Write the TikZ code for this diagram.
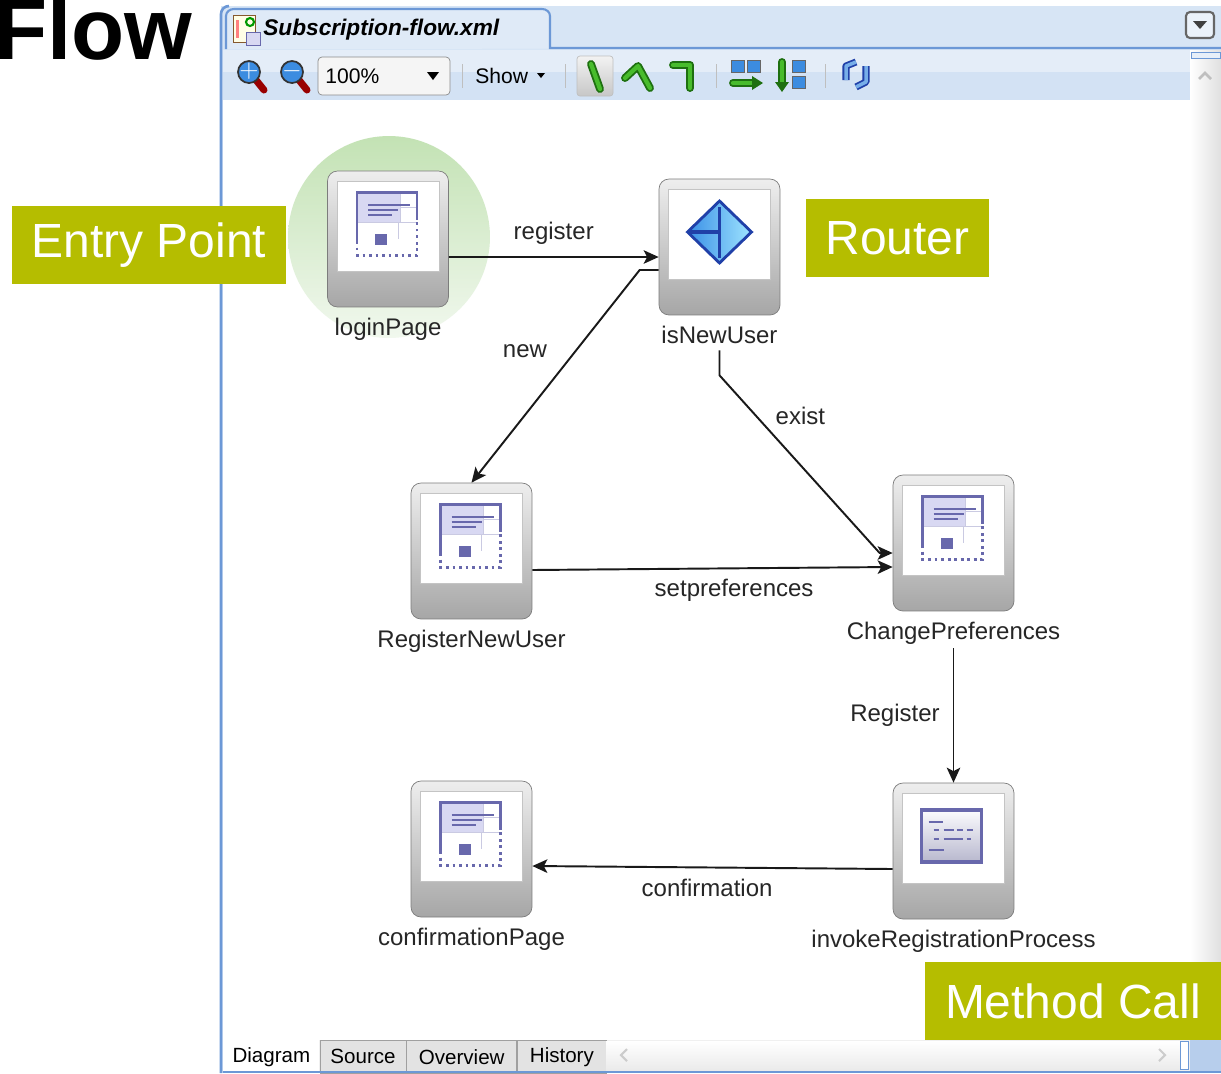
\documentclass[tikz,border=0pt]{standalone}
\usepackage{fontspec}
\setmainfont{Liberation Sans}
\usetikzlibrary{positioning,arrows,arrows.meta}

\definecolor{tagGreen}{HTML}{B5BD00}
\definecolor{winBlue}{HTML}{D7E5F5}
\definecolor{winLine}{HTML}{6C98D6}
\definecolor{toolTop}{HTML}{E4EDF8}
\definecolor{toolLow}{HTML}{D3E2F4}
\definecolor{nodeFrame}{HTML}{7C7C7C}
\definecolor{nodeTop}{HTML}{EEEEEE}
\definecolor{nodeBottom}{HTML}{A6A6A6}
\definecolor{innerLine}{HTML}{C4C4C4}
\definecolor{pageFrame}{HTML}{6868AC}
\definecolor{pageFill}{HTML}{D8D8F2}
\definecolor{routerLine}{HTML}{2040A8}
\definecolor{routerDark}{HTML}{3A90E6}
\definecolor{routerLight}{HTML}{9FE4FF}
\definecolor{entryTop}{HTML}{C3E2B4}
\definecolor{entryBottom}{HTML}{F1F8EE}
\definecolor{txtGray}{HTML}{262626}
\definecolor{iconGreen}{HTML}{48BC2C}
\definecolor{iconDarkGreen}{HTML}{1E7010}
\definecolor{iconBlue}{HTML}{3C8CE0}
\definecolor{tabGray}{HTML}{E3E3E3}
\definecolor{tabLine}{HTML}{A0A0A0}

\begin{document}
\begin{tikzpicture}[x=0.02cm,y=-0.02cm,>={Stealth[length=0.3cm,width=0.27cm,inset=0.07cm]},
	flownode/.style={rectangle,rounded corners=0.2cm,draw=nodeFrame,top color=nodeTop,bottom color=nodeBottom,minimum width=2.42cm,minimum height=2.72cm,inner sep=0pt},
	lbl/.style={font=\fontsize{13.66}{16}\selectfont,text=txtGray},
	tag/.style={fill=tagGreen,text=white,font=\fontsize{27.3}{32}\selectfont,minimum height=1.56cm,inner xsep=0.4cm},
	flow/.style={->,line width=1.1pt,draw=black!90},
	tab/.style={draw=tabLine,fill=tabGray,minimum height=0.66cm,inner sep=0pt,font=\fontsize{11.7}{14}\selectfont},
	tool/.style={font=\fontsize{12}{14}\selectfont,inner sep=0pt,anchor=west},
	greenicon/.style={draw=iconDarkGreen,line width=4.5pt,line cap=round,line join=round},
	greenin/.style={draw=iconGreen,line width=2.4pt,line cap=round,line join=round}]

	\useasboundingbox (0,0) rectangle (1221,1073);

	% window
	\fill[winBlue] (221,6) rectangle (1221,1073);
	\draw[winLine,line width=1.5pt] (221,1073) -- (221,14) to[out=90,in=180] (229,6);
	\draw[winLine,line width=1.2pt,fill=winBlue!80!white] (226,49) -- (226,16) to[out=90,in=180] (234,9) -- (542,9) to[out=0,in=90] (550,16) -- (550,48) -- (1221,48);
	\fill[toolTop] (223,50) rectangle (1190,72);
	\fill[toolLow] (223,72) rectangle (1190,100);
	\fill[white] (223,100) rectangle (1190,1040);
	\shade[left color=white,right color=black!12] (1190,50) rectangle (1221,1040);
	\draw[winLine,fill=winBlue!60!white] (1191,52) rectangle (1220,58);
	\draw[black!25,line width=1.5pt] (1199,79) -- (1205,73) -- (1211,79);
	\draw[black!60,line width=1.2pt,rounded corners=0.08cm,fill=winBlue!50!white] (1186,12) rectangle (1214,38);
	\fill[black!75] (1193,21) -- (1207,21) -- (1200,29) -- cycle;

	% tab title
	\draw[brown!70!black,fill=yellow!10] (233,15) rectangle (255,42);
	\fill[red!50] (236,20) rectangle (239,38);
	\draw[green!60!black,line width=1.2pt] (250,22) circle (0.08cm);
	\draw[pageFrame,fill=pageFill] (246,32) rectangle (260,45);
	\node[tool,font=\fontsize{12.9}{15}\selectfont\bfseries\itshape] (fileName) at (263,30) {Subscription-flow.xml};

	% toolbar
	\foreach \zx/\sign in {249/+,292/-}{
		\draw[red!60!black,line width=4pt,line cap=round] (\zx+7,80) -- (\zx+15,90);
		\draw[black!80,fill=iconBlue,line width=1pt] (\zx,72) circle (0.22cm);
		\node[text=white,font=\bfseries\fontsize{14}{14}\selectfont,inner sep=0pt] at (\zx,71) {$\mathbf{\sign}$};
	}
	\draw[black!45,rounded corners=0.08cm,fill=white!96!black] (318,57) rectangle (450,95);
	\node[tool] (zoomText) at (325,76) {100\%};
	\fill[black] (427,72) -- (439,72) -- (433,80) -- cycle;
	\foreach \sx in {462,565,716,825}
		\draw[black!25] (\sx,64) -- (\sx,88);
	\node[tool] (showText) at (475,76) {Show};
	\fill[black] (537,73) -- (545,73) -- (541,78) -- cycle;
	\draw[black!25,rounded corners=0.06cm,top color=black!5,bottom color=black!22] (577,56) rectangle (613,96);
	\draw[greenicon] (591,64) -- (600,89);
	\draw[greenin] (591,64) -- (600,89);
	\draw[greenicon] (625,78) -- (638,66) -- (650,88);
	\draw[greenin] (625,78) -- (638,66) -- (650,88);
	\draw[greenicon] (673,65) -- (690,65) -- (690,88);
	\draw[greenin] (673,65) -- (690,65) -- (690,88);
	\draw[black!60,fill=iconBlue] (731,60) rectangle (744,72) (747,60) rectangle (760,72);
	\draw[greenicon] (733,83) -- (755,83);
	\draw[greenin] (733,83) -- (755,83);
	\fill[iconDarkGreen] (752,76) -- (763,83) -- (752,90) -- cycle;
	\draw[greenicon] (782,62) -- (782,84);
	\draw[greenin] (782,62) -- (782,84);
	\fill[iconDarkGreen] (775,82) -- (789,82) -- (782,92) -- cycle;
	\draw[black!60,fill=iconBlue] (792,60) rectangle (805,72) (792,76) rectangle (805,88);
	\draw[routerLine,line width=4pt,line join=round] (846,80) -- (846,66) -- (856,62);
	\draw[iconBlue!70!white,line width=2pt,line join=round] (846,80) -- (846,66) -- (856,62);
	\draw[routerLine,line width=4pt,line join=round] (866,66) -- (866,82) -- (856,87);
	\draw[iconBlue!70!white,line width=2pt,line join=round] (866,66) -- (866,82) -- (856,87);

	% entry point halo
	\shade[top color=entryTop,bottom color=entryBottom] (389,237) circle [radius=2.02cm];

	% flow nodes
	\node[flownode] (loginPage) at (388,239) {};
	\node[flownode] (isNewUser) at (719.5,247) {};
	\node[flownode] (RegisterNewUser) at (471.5,551) {};
	\node[flownode] (ChangePreferences) at (953.5,543) {};
	\node[flownode] (confirmationPage) at (471.5,849) {};
	\node[flownode] (invokeRegistrationProcess) at (953.5,851) {};

	\foreach \n/\t in {loginPage/loginPage,isNewUser/isNewUser,RegisterNewUser/RegisterNewUser,ChangePreferences/ChangePreferences,confirmationPage/confirmationPage,invokeRegistrationProcess/invokeRegistrationProcess}{
		\draw[innerLine,fill=white] ([shift={(-51,-58)}]\n.center) rectangle ([shift={(51,32)}]\n.center);
		\node[lbl,below=0.1cm of \n] (\n-label) {\t};
	}

	% page icons
	\foreach \n in {loginPage,RegisterNewUser,ChangePreferences,confirmationPage}{
		\begin{scope}[shift={(\n.center)}]
			\fill[pageFill] (-31,-47) rectangle (12,-17);
			\draw[pageFrame!35] (-31,-17) -- (29,-17) (12,-47) -- (12,-17) (12,-32) -- (29,-32) (10,-17) -- (10,0);
			\draw[pageFrame,line width=1.6pt] (-20,-34) -- (22,-34) (-20,-29) -- (10,-29) (-20,-24) -- (4,-24);
			\fill[pageFrame] (-13,-5) rectangle (-1,6);
			\draw[pageFrame,line width=1.7pt] (-31,2) -- (-31,-47) -- (29,-47) -- (29,-19);
			\draw[pageFrame,line width=1.7pt,dotted] (-31,2) -- (-31,16) -- (29,16) -- (29,-19);
		\end{scope}
	}

	% router icon
	\begin{scope}[shift={(isNewUser.center)}]
		\draw[routerLine,line width=1.6pt,left color=routerDark,right color=routerLight] (-32,-15) -- (0,-46) -- (32,-15) -- (0,16) -- cycle;
		\draw[routerLine,line width=1.8pt] (-32,-15) -- (0,-15) (0,-40) -- (0,11);
	\end{scope}

	% method call icon
	\begin{scope}[shift={(invokeRegistrationProcess.center)}]
		\draw[pageFrame,line width=1.8pt,top color=white!90!pageFill,bottom color=pageFill!85!black] (-32,-41) rectangle (28,11);
		\draw[pageFrame,line width=1.5pt] (-25,-29) -- (-11,-29) (-25,-1) -- (-10,-1)
			(-20,-21) -- (-15,-21) (-10,-21) -- (0,-21) (3,-21) -- (9,-21) (13,-21) -- (19,-21)
			(-20,-12) -- (-15,-12) (-10,-12) -- (9,-12) (13,-12) -- (17,-12);
	\end{scope}

	% connectors
	\draw[flow] ([yshift=-0.36cm]loginPage.east) -- node[lbl,above=0.11cm] {register} ([yshift=-0.2cm]isNewUser.west);
	\draw[flow] ([yshift=-0.46cm]isNewUser.west) -- ++(-19,0) -- (RegisterNewUser.north) node[lbl,pos=0.38,left=0.44cm] {new};
	\draw[flow] ([yshift=-0.7cm]isNewUser.south) -- ++(0,25) -- ([xshift=-0.26cm,yshift=-0.2cm]ChangePreferences.west) node[lbl,pos=0.23,right=0.25cm] {exist} -- ([yshift=-0.2cm]ChangePreferences.west);
	\draw[flow] ([yshift=-0.38cm]RegisterNewUser.east) -- node[lbl,pos=0.56,below=0.08cm] {setpreferences} ([yshift=-0.48cm]ChangePreferences.west);
	\draw[flow] ([yshift=-0.74cm]ChangePreferences.south) -- node[lbl,left=0.14cm] {Register} (invokeRegistrationProcess.north);
	\draw[flow] ([yshift=-0.36cm]invokeRegistrationProcess.west) -- node[lbl,pos=0.515,below=0.1cm] {confirmation} ([yshift=-0.34cm]confirmationPage.east);

	% bottom tabs
	\fill[black!6] (223,1040) rectangle (1190,1073);
	\node[tab,fill=white,draw=none,minimum width=1.92cm,anchor=north west] (diagramTab) at (223,1040) {Diagram};
	\node[tab,minimum width=1.72cm,right=0pt of diagramTab] (sourceTab) {Source};
	\node[tab,minimum width=2.2cm,right=0pt of sourceTab] (overviewTab) {Overview};
	\node[tab,minimum width=1.78cm,right=0pt of overviewTab] (historyTab) {History};
	\shade[top color=white,bottom color=black!8] (606,1041) rectangle (1180,1070);
	\draw[black!20,line width=1.2pt] (627,1049) -- (621,1055) -- (627,1061) (1159,1049) -- (1165,1055) -- (1159,1061);
	\fill[winBlue!70!winLine] (1190,1040) rectangle (1221,1073);
	\draw[winLine,fill=white] (1180,1041) rectangle (1188,1069);
	\draw[winLine,line width=1.5pt] (223,1072) -- (1221,1072);

	% callouts
	\node[tag] (entryTag) at (149,245) {Entry Point};
	\node[tag] (routerTag) at (897.5,238) {Router};
	\node[tag] (methodTag) at (1073,1001) {Method Call};
	\node[anchor=base west,inner sep=0pt,font=\fontsize{49.5}{52}\selectfont\bfseries] (title) at (-6,59) {Flow};
\end{tikzpicture}
\end{document}
